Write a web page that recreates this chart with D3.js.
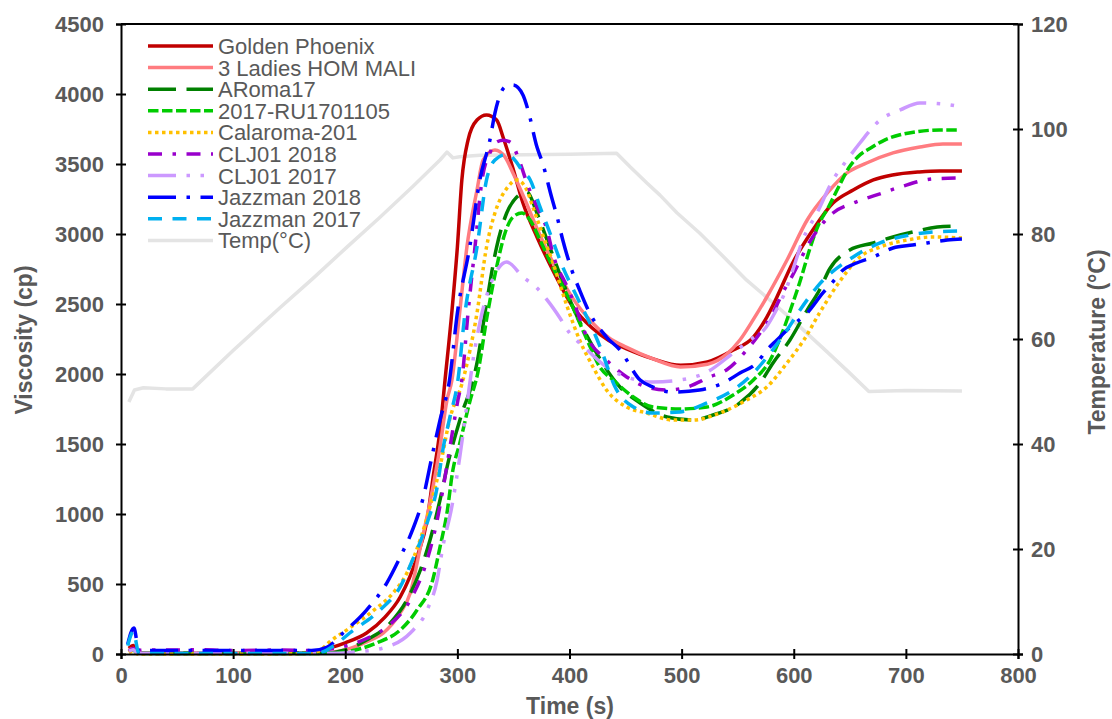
<!DOCTYPE html>
<html>
<head>
<meta charset="utf-8">
<script src="https://cdn.jsdelivr.net/npm/d3@7"></script>
<style>
  body { margin: 0; background: #fff; }
  svg { display: block; font-family: "Liberation Sans", Arial, Helvetica, sans-serif; }
</style>
</head>
<body>
<div id="draw"></div>
<script>
// series names (legend order)
var names = ['Golden Phoenix', '3 Ladies HOM MALI', 'ARoma17', '2017-RU1701105', 'Calaroma-201',
             'CLJ01 2018', 'CLJ01 2017', 'Jazzman 2018', 'Jazzman 2017', 'Temp(\u00B0C)'];

// [time (s), viscosity (cp)]
var goldenPhoenix = [[7,40],[11,60],[15,10],[20,8],[60,5],[100,5],[140,5],[170,10],[185,40],[200,80],[219,150],[235,260],[249,407],[264,693],[273,957],[278,1243],[284.5,1600],[289,1957],[295,2436],[300,2907],[304,3386],[309.5,3671],[317.5,3814],[326,3850],[335,3814],[341,3686],[350,3457],[358.5,3221],[371,2979],[385,2743],[403,2480],[420,2330],[435,2240],[451,2180],[474,2110],[499,2062],[523,2086],[546,2171],[564,2264],[576,2407],[585,2550],[599,2793],[617,3029],[635,3221],[653,3314],[671,3386],[688,3421],[712,3443],[730,3450],[750,3450]];
var ladiesHom = [[7,30],[11,40],[15,5],[60,3],[140,3],[175,5],[200,30],[220,90],[234,150],[249,293],[258,436],[267,764],[276,1100],[284.5,1479],[290.7,1814],[295,1950],[302,2436],[308.5,2907],[317.5,3314],[323,3529],[333.5,3600],[342.5,3550],[349.6,3436],[360,3250],[371,3040],[385,2800],[403,2540],[420,2370],[435,2260],[451,2190],[474,2110],[499,2050],[523,2070],[540,2140],[552,2243],[564,2390],[576,2550],[594,2814],[612,3100],[630,3293],[647.5,3436],[665,3507],[688.5,3579],[712.5,3621],[733,3643],[750,3643]];
var aroma17 = [[7,20],[11,30],[15,5],[60,5],[140,5],[180,5],[200,30],[219,100],[240,221],[255,386],[267,600],[275.6,814],[284.5,1100],[291.6,1364],[299.6,1600],[305,1743],[312,1900],[318,2100],[324.6,2436],[335,2907],[344,3150],[353,3264],[362,3300],[371,3150],[380,2957],[389,2764],[403,2479],[421,2193],[445,1907],[463,1793],[487,1693],[510,1671],[528,1707],[552,1793],[570,1936],[581.5,2079],[596.6,2243],[612,2457],[623,2600],[632,2750],[650,2886],[671,2936],[688.5,2979],[706,3014],[728,3050],[745,3057]];
var ru1701105 = [[7,20],[11,30],[15,3],[60,3],[140,3],[185,5],[200,15],[228,79],[249,171],[264,314],[278,529],[284.5,764],[290.7,1007],[296,1314],[302,1500],[311,1800],[318,2000],[327,2436],[335,2764],[342.5,3007],[349.6,3121],[357.6,3150],[364.8,3100],[373.7,2957],[385,2764],[400,2529],[417,2220],[427,2050],[439,1957],[457,1836],[474.5,1764],[498.5,1750],[522.6,1764],[546,1850],[564,1957],[579,2100],[590,2300],[598,2480],[606,2671],[614,2886],[622,3064],[631,3193],[640,3336],[649,3471],[657,3550],[670,3621],[681,3671],[694,3707],[708,3729],[730,3743],[748,3743]];
var calaroma = [[7,10],[11,20],[15,0],[60,0],[140,0],[170,5],[178,29],[186,86],[204,186],[225,310],[242,430],[255,579],[266.7,814],[275.6,1050],[284.5,1336],[293,1671],[305,1957],[317.5,2436],[326,2907],[333.5,3150],[345,3336],[353,3386],[362,3314],[367,3200],[375,3020],[385,2800],[398,2480],[409,2243],[421,2050],[433,1886],[451,1764],[469,1721],[492,1671],[510,1671],[534,1721],[558,1814],[576,1907],[594,2079],[609,2243],[623,2436],[640,2650],[659,2836],[677,2907],[701,2957],[724,2979],[750,2971]];
var clj2018 = [[7,20],[11,40],[15,25],[20,30],[40,28],[70,30],[100,25],[140,28],[170,25],[190,40],[210,80],[222,121],[237,193],[258,386],[273,671],[282,957],[287,1171],[293.4,1479],[300.5,1814],[304,1957],[309.5,2436],[315.7,2907],[322,3386],[329,3579],[335,3657],[341,3670],[347,3657],[356,3507],[362,3364],[371,3193],[380,3029],[385,2864],[398,2621],[403,2529],[415.6,2264],[433,2100],[451,1979],[469,1907],[487,1886],[505,1907],[525,1979],[540,2029],[558,2171],[570,2293],[581.5,2436],[590,2579],[596.6,2671],[617,2979],[635,3150],[653,3221],[674,3279],[695,3336],[724,3393],[750,3400]];
var clj2017 = [[7,20],[11,30],[15,5],[60,5],[140,5],[190,5],[210,15],[237,50],[258,150],[273,314],[282,529],[287,764],[295,1050],[302,1400],[308,1750],[314,2100],[322,2436],[330,2650],[337,2760],[344,2800],[358.5,2693],[371,2614],[380,2529],[391.5,2400],[400,2293],[409,2221],[416,2170],[433,2050],[451,1979],[474.5,1943],[498.5,1957],[522.6,2014],[546,2150],[561,2243],[575,2330],[584,2450],[592,2580],[600,2764],[608,2957],[620.7,3150],[635,3386],[647.5,3529],[659,3650],[677,3814],[695,3886],[712.5,3936],[733,3929],[750,3907]];
var jazz2018 = [[6,70],[11.5,185],[16,20],[20,25],[60,25],[100,25],[140,25],[170,25],[184,50],[198,150],[219,314],[237,507],[249,693],[260,886],[269,1100],[278,1436],[284.5,1671],[293,1957],[300,2436],[311,2907],[320,3386],[329,3671],[333.5,3864],[342.5,4050],[349.6,4064],[358.5,3993],[363,3886],[371,3621],[376,3507],[384,3264],[389,3121],[394,2957],[402,2743],[409,2600],[418,2436],[433,2264],[445,2171],[463,1957],[474.5,1907],[492,1871],[516,1886],[537,1936],[552,2007],[567,2079],[576,2171],[585,2243],[597,2336],[612,2436],[626,2579],[634,2650],[644,2743],[656,2793],[671,2836],[688.5,2900],[706,2921],[719,2936],[737,2957],[750,2964]];
var jazz2017 = [[6,60],[11,160],[16,5],[60,3],[140,3],[175,5],[190,60],[204,150],[231,314],[249,479],[260,671],[273,936],[282,1193],[287,1457],[293.4,1693],[300.5,1957],[306.8,2436],[317.5,2907],[326,3386],[333.5,3529],[344,3570],[352,3520],[358,3450],[365,3386],[373.7,3193],[382.6,3007],[394,2764],[406.7,2550],[421,2314],[427,2200],[442,1886],[457,1764],[474.5,1721],[498.5,1729],[522.6,1793],[546,1886],[564,2007],[579,2150],[594,2314],[605.6,2457],[620.7,2621],[653,2836],[677,2936],[703.6,2993],[724,3014],[746.5,3021]];
// [time (s), temperature (°C)] on the right axis
var temperature = [[7,48],[12,50.3],[20,50.7],[40,50.5],[64,50.5],[100,57.8],[142,66],[171,71.5],[201.5,77.5],[231,83.2],[260,89],[284.5,94.1],[290.7,95.6],[296,94.5],[302,94.7],[320,95],[360,95.1],[400,95.2],[442,95.4],[454,92.8],[469,89.7],[480.7,87.4],[496,84],[516,80.2],[534,76.4],[558,71.2],[581.5,66.9],[605.6,62.3],[630,57.5],[650,53.5],[667,50],[700,50.2],[750,50.1]];

var xTicks = [0, 100, 200, 300, 400, 500, 600, 700, 800];
var yTicks = [0, 500, 1000, 1500, 2000, 2500, 3000, 3500, 4000, 4500];
var y2Ticks = [0, 20, 40, 60, 80, 100, 120];

// styles
var colors = ['#C00000', '#FF7C80', '#008000', '#00CC00', '#FFC000', '#9900CC', '#CC99FF', '#0000FF', '#00B0F0', '#E4E4E4'];
var dashes = [null, null, '28,10.5', '10.5,3.5', '3.5,3.5', '14,10.5,3.5,10.5', '28,10.5,3.5,10.5,3.5,10.5', '28,10.5,3.5,10.5', '14,10.5', null];
var series = [goldenPhoenix, ladiesHom, aroma17, ru1701105, calaroma, clj2018, clj2017, jazz2018, jazz2017];

var W = 1112, H = 719;
var lw = 3.5;
var txtCol = '#595959';

var x = d3.scaleLinear().domain([0, 800]).range([121, 1018]);
var y = d3.scaleLinear().domain([0, 4500]).range([654, 24]);
var y2 = d3.scaleLinear().domain([0, 120]).range([654, 24]);

var svg = d3.select('#draw').append('svg').attr('width', W).attr('height', H);

// temperature first (sits behind)
var tline = d3.line().x(function(d) { return x(d[0]); }).y(function(d) { return y2(d[1]); });
svg.append('path')
  .datum(temperature)
  .attr('d', tline)
  .attr('fill', 'none')
  .attr('stroke', colors[9])
  .attr('stroke-width', lw)
  .attr('stroke-linejoin', 'round');

var vline = d3.line().curve(d3.curveMonotoneX)
  .x(function(d) { return x(d[0]); }).y(function(d) { return y(d[1]); });

for (var i = 0; i < series.length; i++) {
  svg.append('path')
    .datum(series[i])
    .attr('d', vline)
    .attr('fill', 'none')
    .attr('stroke', colors[i])
    .attr('stroke-width', lw)
    .attr('stroke-dasharray', dashes[i])
    .attr('stroke-linejoin', 'round');
}

// frame top
svg.append('line')
  .attr('x1', x(0)).attr('x2', x(800)).attr('y1', y(4500)).attr('y2', y(4500))
  .attr('stroke', 'black').attr('stroke-width', 2);

// axes
function styleAxis(g, cross) {
  g.select('.domain').attr('stroke', 'black').attr('stroke-width', 2);
  g.selectAll('.tick line').attr('stroke', 'black').attr('stroke-width', 2);
  g.selectAll('.tick text')
    .attr('fill', txtCol)
    .attr('font-size', 22)
    .attr('font-weight', 'bold')
    .attr('font-family', '"Liberation Sans", Arial, sans-serif');
}

var gx = svg.append('g').attr('transform', 'translate(0,' + y(0) + ')')
  .call(d3.axisBottom(x).tickValues(xTicks).tickSizeOuter(0).tickSize(5).tickPadding(8).tickFormat(d3.format('d')));
styleAxis(gx);
gx.selectAll('.tick line').attr('y1', -5);

var gy = svg.append('g').attr('transform', 'translate(' + x(0) + ',0)')
  .call(d3.axisLeft(y).tickValues(yTicks).tickSizeOuter(0).tickSize(5).tickPadding(12).tickFormat(d3.format('d')));
styleAxis(gy);
gy.selectAll('.tick line').attr('x1', 5);

var gy2 = svg.append('g').attr('transform', 'translate(' + x(800) + ',0)')
  .call(d3.axisRight(y2).tickValues(y2Ticks).tickSizeOuter(0).tickSize(5).tickPadding(8).tickFormat(d3.format('d')));
styleAxis(gy2);
gy2.selectAll('.tick line').attr('x1', -5);

// axis titles
svg.append('text')
  .attr('x', 570).attr('y', 714)
  .attr('text-anchor', 'middle')
  .attr('font-size', 23).attr('font-weight', 'bold').attr('fill', txtCol)
  .text('Time (s)');
svg.append('text')
  .attr('transform', 'translate(32,340) rotate(-90)')
  .attr('text-anchor', 'middle')
  .attr('font-size', 23).attr('font-weight', 'bold').attr('fill', txtCol)
  .text('Viscosity (cp)');
svg.append('text')
  .attr('transform', 'translate(1105,342) rotate(-90)')
  .attr('text-anchor', 'middle')
  .attr('font-size', 23).attr('font-weight', 'bold').attr('fill', txtCol)
  .text('Temperature (\u00B0C)');

// legend
var lg = svg.append('g');
for (var k = 0; k < names.length; k++) {
  var ry = 46 + k * 21.6;
  lg.append('line')
    .attr('x1', 148).attr('x2', 213).attr('y1', ry).attr('y2', ry)
    .attr('stroke', colors[k])
    .attr('stroke-width', lw)
    .attr('stroke-dasharray', dashes[k]);
  lg.append('text')
    .attr('x', 218).attr('y', ry + 8)
    .attr('font-size', 22).attr('fill', txtCol)
    .text(names[k]);
}
</script>
</body>
</html>
